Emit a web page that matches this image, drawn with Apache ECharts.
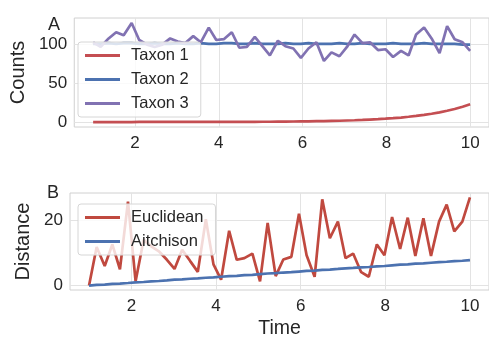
<!DOCTYPE html>
<html>
<head>
<meta charset="utf-8">
<script src="https://cdn.jsdelivr.net/npm/echarts@6/dist/echarts.min.js"></script>
<style>
  html, body { margin: 0; padding: 0; background: #fff; }
  #main { width: 489px; height: 340px; }
</style>
</head>
<body>
<div id="main"></div>
<script>
// time points (50 samples, 1 .. 10)
var time = [1.00, 1.18, 1.37, 1.55, 1.73, 1.92, 2.10, 2.29, 2.47, 2.65,
            2.84, 3.02, 3.20, 3.39, 3.57, 3.76, 3.94, 4.12, 4.31, 4.49,
            4.67, 4.86, 5.04, 5.22, 5.41, 5.59, 5.78, 5.96, 6.14, 6.33,
            6.51, 6.69, 6.88, 7.06, 7.24, 7.43, 7.61, 7.80, 7.98, 8.16,
            8.35, 8.53, 8.71, 8.90, 9.08, 9.27, 9.45, 9.63, 9.82, 10.00];

// panel A: counts
var taxon1 = [0.0, 0.0, 0.0, 0.0, 0.0, 0.0, 0.1, 0.1, 0.1, 0.1,
              0.1, 0.1, 0.1, 0.1, 0.1, 0.2, 0.2, 0.2, 0.2, 0.2,
              0.3, 0.3, 0.4, 0.4, 0.5, 0.6, 0.7, 0.8, 0.9, 1.1,
              1.3, 1.5, 1.7, 2.0, 2.3, 2.7, 3.2, 3.7, 4.3, 5.0,
              5.8, 6.8, 7.9, 9.2, 10.7, 12.5, 14.6, 16.9, 19.8, 23.0];
var taxon2 = [101, 101, 102, 101, 102, 102, 101, 101, 102, 101,
              101, 102, 101, 101, 102, 101, 101, 102, 102, 101,
              101, 102, 101, 101, 101, 102, 101, 101, 102, 101,
              101, 101, 102, 101, 101, 102, 101, 101, 101, 102,
              101, 101, 101, 102, 101, 101, 101, 101, 100, 100];
var taxon3 = [103, 97, 108, 116, 112, 128, 106, 100, 97, 100,
              108, 104, 102, 111, 103, 122, 106, 107, 116, 96,
              97, 110, 98, 86, 105, 98, 95, 83, 95, 103,
              79, 90, 85, 97, 113, 102, 103, 93, 94, 84,
              92, 86, 113, 122, 108, 89, 124, 107, 103, 92];

// panel B: distances
var euclidean = [0, 11.8, 6, 12.6, 5, 25.7, 1.3, 14, 12, 10.5,
                 7.9, 5.1, 11, 7.5, 4.2, 20.3, 6.5, 1.8, 16.8, 7.9,
                 8.4, 9.8, 1.3, 19.2, 2.9, 8, 8.8, 22, 9.3, 2.7,
                 26.4, 14.5, 19.6, 8.4, 9.8, 4.1, 2.7, 12.6, 9.3, 21,
                 11.2, 20.8, 9.1, 20.6, 9.1, 19.6, 24.8, 16.6, 19.6, 27];
var aitchison = [0, 0.2, 0.3, 0.5, 0.6, 0.8, 1.0, 1.1, 1.3, 1.4,
                 1.6, 1.8, 1.9, 2.1, 2.2, 2.4, 2.5, 2.7, 2.9, 3.0,
                 3.2, 3.3, 3.5, 3.7, 3.8, 4.0, 4.1, 4.3, 4.5, 4.6,
                 4.8, 4.9, 5.1, 5.3, 5.4, 5.6, 5.7, 5.9, 6.0, 6.2,
                 6.4, 6.5, 6.7, 6.8, 7.0, 7.2, 7.3, 7.5, 7.6, 7.8];

var xTicks = [2, 4, 6, 8, 10];
var countTicks = [0, 50, 100];
var distTicks = [0, 20];

function pairs(ys) {
    return ys.map(function (v, i) { return [time[i], v]; });
}

var FONT = "'Liberation Sans', Arial, sans-serif";
var TXT = '#262626';
var GRID = '#e3e3e3';

function xAxis(idx, name) {
    return {
        type: 'value', gridIndex: idx, min: 0.55, max: 10.45,
        name: name || '', nameLocation: 'middle', nameGap: 29,
        nameTextStyle: { fontSize: 19.5, color: TXT, fontFamily: FONT },
        axisLine: { show: false }, axisTick: { show: false, customValues: xTicks },
        axisLabel: { customValues: xTicks, margin: 8, fontSize: 17, color: TXT, fontFamily: FONT },
        splitLine: { lineStyle: { color: GRID, width: 1 } }
    };
}

function yAxis(idx, name, min, max, ticks, gap) {
    return {
        type: 'value', gridIndex: idx, min: min, max: max,
        name: name, nameLocation: 'middle', nameGap: gap,
        nameTextStyle: { fontSize: 20, color: TXT, fontFamily: FONT },
        axisLine: { show: false }, axisTick: { show: false, customValues: ticks },
        axisLabel: { customValues: ticks, margin: 7, fontSize: 17, color: TXT, fontFamily: FONT },
        splitLine: { lineStyle: { color: GRID, width: 1 } }
    };
}

function line(name, data, color, xi) {
    return {
        name: name, type: 'line', xAxisIndex: xi, yAxisIndex: xi,
        data: pairs(data), showSymbol: false, symbol: 'none',
        lineStyle: { color: color, width: 2.7 }, itemStyle: { color: color },
        animation: false
    };
}

function legend(names, top) {
    return {
        data: names, orient: 'vertical', left: 78, top: top,
        icon: 'rect', itemWidth: 35, itemHeight: 3, itemGap: 5,
        padding: [4, 12, 4, 7],
        backgroundColor: 'rgba(255,255,255,0.8)', borderColor: '#d6d6d6',
        borderWidth: 1, borderRadius: 3,
        textStyle: { fontSize: 16.5, color: TXT, fontFamily: FONT, lineHeight: 19, padding: [0, 0, 0, 6] }
    };
}

var chart = echarts.init(document.getElementById('main'));
chart.setOption({
    backgroundColor: '#fff',
    animation: false,
    title: [
        { text: 'A', left: 43, top: 11, textStyle: { fontSize: 18, fontWeight: 'normal', color: TXT, fontFamily: FONT } },
        { text: 'B', left: 42, top: 179, textStyle: { fontSize: 18, fontWeight: 'normal', color: TXT, fontFamily: FONT } }
    ],
    grid: [
        { left: 70, top: 18, width: 421, height: 109, show: true, borderColor: '#d0d0d0', borderWidth: 1 },
        { left: 70, top: 193, width: 421, height: 104, show: true, borderColor: '#d0d0d0', borderWidth: 1 }
    ],
    legend: [
        legend(['Taxon 1', 'Taxon 2', 'Taxon 3'], 42),
        legend(['Euclidean', 'Aitchison'], 204)
    ],
    xAxis: [xAxis(0), xAxis(1, 'Time')],
    yAxis: [
        yAxis(0, 'Counts', -6.4, 134.4, countTicks, 37),
        yAxis(1, 'Distance', -1.35, 28.35, distTicks, 28)
    ],
    series: [
        line('Taxon 1', taxon1, '#c44e52', 0),
        line('Taxon 2', taxon2, '#4c72b0', 0),
        line('Taxon 3', taxon3, '#8172b2', 0),
        line('Euclidean', euclidean, '#c0493f', 1),
        line('Aitchison', aitchison, '#4c72b0', 1)
    ]
});
</script>
</body>
</html>
